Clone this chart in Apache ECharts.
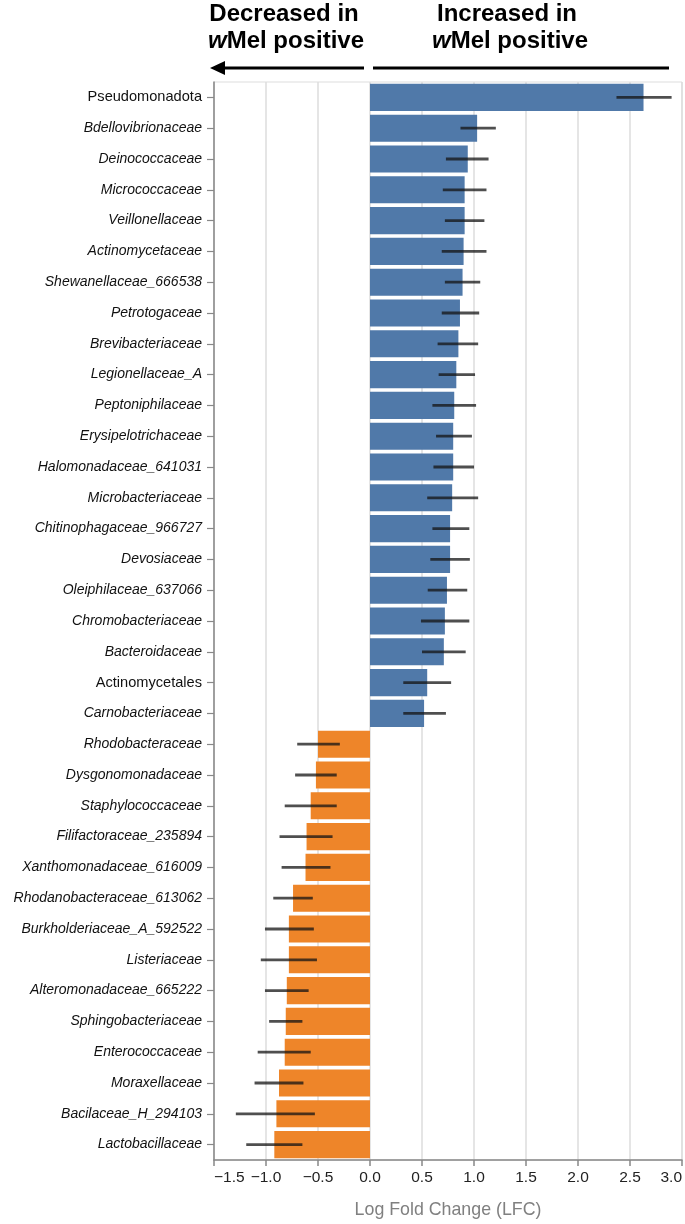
<!DOCTYPE html>
<html>
<head>
<meta charset="utf-8">
<script src="https://cdn.jsdelivr.net/npm/echarts@6/dist/echarts.min.js"></script>
<style>
html,body{margin:0;padding:0;background:#fff;}
#chart{width:685px;height:1224px;}
</style>
</head>
<body>
<div id="chart"></div>
<script>
const categories = [
  'Pseudomonadota','Bdellovibrionaceae','Deinococcaceae','Micrococcaceae','Veillonellaceae',
  'Actinomycetaceae','Shewanellaceae_666538','Petrotogaceae','Brevibacteriaceae','Legionellaceae_A',
  'Peptoniphilaceae','Erysipelotrichaceae','Halomonadaceae_641031','Microbacteriaceae','Chitinophagaceae_966727',
  'Devosiaceae','Oleiphilaceae_637066','Chromobacteriaceae','Bacteroidaceae','Actinomycetales',
  'Carnobacteriaceae','Rhodobacteraceae','Dysgonomonadaceae','Staphylococcaceae','Filifactoraceae_235894',
  'Xanthomonadaceae_616009','Rhodanobacteraceae_613062','Burkholderiaceae_A_592522','Listeriaceae','Alteromonadaceae_665222',
  'Sphingobacteriaceae','Enterococcaceae','Moraxellaceae','Bacilaceae_H_294103','Lactobacillaceae'
];
const uprightNames = ['Pseudomonadota','Actinomycetales'];
const lfc = [
  2.63, 1.03, 0.94, 0.91, 0.91,
  0.90, 0.89, 0.865, 0.85, 0.83,
  0.81, 0.80, 0.80, 0.79, 0.77,
  0.77, 0.74, 0.72, 0.71, 0.55,
  0.52, -0.50, -0.52, -0.57, -0.61,
  -0.62, -0.74, -0.78, -0.78, -0.80,
  -0.81, -0.82, -0.875, -0.90, -0.92
];
const ciLow = [
  2.37, 0.87, 0.73, 0.70, 0.72,
  0.69, 0.72, 0.69, 0.65, 0.66,
  0.60, 0.635, 0.61, 0.55, 0.60,
  0.58, 0.555, 0.49, 0.50, 0.32,
  0.32, -0.70, -0.72, -0.82, -0.87,
  -0.85, -0.93, -1.01, -1.05, -1.01,
  -0.97, -1.08, -1.11, -1.29, -1.19
];
const ciHigh = [
  2.90, 1.21, 1.14, 1.12, 1.10,
  1.12, 1.06, 1.05, 1.04, 1.01,
  1.02, 0.98, 1.00, 1.04, 0.955,
  0.96, 0.935, 0.955, 0.92, 0.78,
  0.73, -0.29, -0.32, -0.32, -0.36,
  -0.38, -0.55, -0.54, -0.51, -0.59,
  -0.65, -0.57, -0.64, -0.53, -0.65
];
const xMin = -1.5, xMax = 3.0, xStep = 0.5;

const errData = categories.map((c, i) => [i, ciLow[i], ciHigh[i]]);

const chart = echarts.init(document.getElementById('chart'), null, {renderer: 'canvas'});
const FONT = 'Liberation Sans, Arial, sans-serif';

chart.setOption({
  animation: false,
  textStyle: {fontFamily: FONT},
  grid: {left: 214, right: 3, top: 82, bottom: 53, show: true, borderColor: '#dddddd', borderWidth: 1, containLabel: false},
  xAxis: {
    type: 'value', min: xMin, max: xMax, interval: xStep,
    axisLine: {show: true, lineStyle: {color: '#888888', width: 1.5}},
    axisTick: {show: true, length: 6, lineStyle: {color: '#888888', width: 1.5}},
    splitLine: {show: true, lineStyle: {color: '#dddddd', width: 1.5}},
    axisLabel: {
      fontFamily: FONT, fontSize: 15.5, color: '#222', margin: 10,
      alignMinLabel: 'left', alignMaxLabel: 'right',
      formatter: v => (v < 0 ? '\u2212' : '') + Math.abs(v).toFixed(1)
    },
    name: 'Log Fold Change (LFC)', nameLocation: 'middle', nameGap: 41,
    nameTextStyle: {fontFamily: FONT, fontSize: 17.8, color: '#808080'}
  },
  yAxis: {
    type: 'category', data: categories, inverse: true,
    axisLine: {show: true, onZero: false, lineStyle: {color: '#888888', width: 1.5}},
    axisTick: {show: true, alignWithLabel: true, length: 7, lineStyle: {color: '#888888', width: 1.2}},
    splitLine: {show: false},
    axisLabel: {
      margin: 12, fontFamily: FONT, fontSize: 14, color: '#111',
      formatter: v => uprightNames.includes(v) ? '{n|' + v + '}' : '{i|' + v + '}',
      rich: {
        n: {fontFamily: FONT, fontSize: 14.6, color: '#111', fontStyle: 'normal'},
        i: {fontFamily: FONT, fontSize: 14, color: '#111', fontStyle: 'italic'}
      }
    }
  },
  series: [
    {
      type: 'bar', data: lfc, barCategoryGap: '12%',
      itemStyle: {color: p => p.value >= 0 ? '#5079a9' : '#ee8529'},
      z: 2
    },
    {
      type: 'custom', data: errData, encode: {x: [1, 2], y: 0}, z: 3,
      renderItem: (params, api) => {
        const idx = api.value(0);
        const a = api.coord([api.value(1), idx]);
        const b = api.coord([api.value(2), idx]);
        return {type: 'line', shape: {x1: a[0], y1: a[1], x2: b[0], y2: b[1]},
          style: {stroke: 'rgba(20,20,20,0.75)', lineWidth: 2.8}};
      }
    }
  ],
  graphic: [
    {type: 'text', x: 284, y: 14, style: {text: 'Decreased in', font: 'bold 24px ' + FONT, fill: '#000', align: 'center', verticalAlign: 'middle'}},
    {type: 'text', x: 286, y: 41, style: {text: '{i|w}Mel positive', font: 'bold 24px ' + FONT, fill: '#000', align: 'center', verticalAlign: 'middle',
      rich: {i: {font: 'italic bold 24px ' + FONT, fill: '#000'}}}},
    {type: 'text', x: 507, y: 14, style: {text: 'Increased in', font: 'bold 24px ' + FONT, fill: '#000', align: 'center', verticalAlign: 'middle'}},
    {type: 'text', x: 510, y: 41, style: {text: '{i|w}Mel positive', font: 'bold 24px ' + FONT, fill: '#000', align: 'center', verticalAlign: 'middle',
      rich: {i: {font: 'italic bold 24px ' + FONT, fill: '#000'}}}},
    {type: 'line', shape: {x1: 222, y1: 68, x2: 364, y2: 68}, style: {stroke: '#000', lineWidth: 3}},
    {type: 'polygon', shape: {points: [[210, 68], [225, 61], [225, 75]]}, style: {fill: '#000'}},
    {type: 'line', shape: {x1: 373, y1: 68, x2: 669, y2: 68}, style: {stroke: '#000', lineWidth: 3}}
  ]
});
</script>
</body>
</html>
